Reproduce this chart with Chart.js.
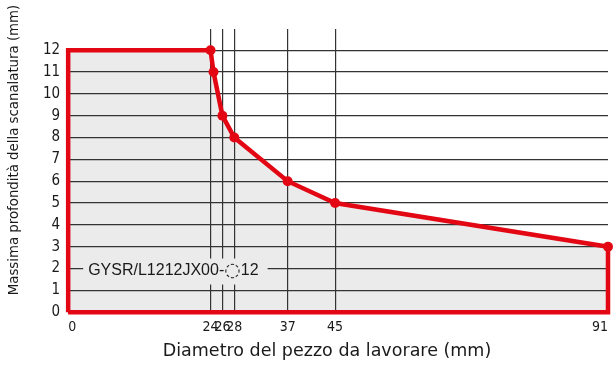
<!DOCTYPE html>
<html>
<head>
<meta charset="utf-8">
<script src="https://cdn.jsdelivr.net/npm/chart.js@4/dist/chart.umd.min.js"></script>
<style>
  html, body { margin: 0; padding: 0; background: #fff; }
  #wrap { width: 614px; height: 365px; }
</style>
</head>
<body>
<div id="wrap"><canvas id="depthChart"></canvas></div>
<script>
// Limit curve: workpiece diameter (mm) vs max groove depth (mm)
const diameters = [24, 24.5, 26, 28, 37, 45, 91];
const depths = [12, 11, 9, 8, 6, 5, 3];
// Ticks shown on the axes
const xTicks = [0, 24, 26, 28, 37, 45, 91];
const yTicks = [0, 1, 2, 3, 4, 5, 6, 7, 8, 9, 10, 11, 12];
const modelParts = ["GYSR/L1212JX00-", "\u25CC", "12"];
const labelDepth = 2;
const xTitle = "Diametro del pezzo da lavorare (mm)";
const yTitle = "Massima profondità della scanalatura (mm)";

const RED = "#e30613";
const INK = "#1a1a1a";
const COND = "'DejaVu Sans Condensed', 'DejaVu Sans', sans-serif";

const curve = diameters.map((d, i) => ({ x: d, y: depths[i] }));
const last = curve[curve.length - 1];
// shaded area: left edge at full depth, then the curve, filled down to zero
const area = [{ x: 0, y: depths[0] }].concat(curve);
// red boundary round the whole allowed region
const outline = [{ x: 0, y: 0 }, { x: 0, y: depths[0] }]
  .concat(curve)
  .concat([{ x: last.x, y: 0 }, { x: 0, y: 0 }]);
const radii = outline.map((p, i) => (i >= 2 && i < 2 + curve.length ? 5 : 0));

// model code on the chart, over a box hiding the grid behind it
const modelTag = {
  id: "modelTag",
  afterDatasetsDraw(chart) {
    const { ctx, scales } = chart;
    const y = scales.y.getPixelForValue(labelDepth) + 2;
    let x = scales.x.left + 20;
    const fonts = [
      "16px 'Liberation Sans', Arial, sans-serif",
      "19px 'DejaVu Sans', sans-serif",
      "16px 'Liberation Sans', Arial, sans-serif",
    ];
    ctx.save();
    let w = 0;
    modelParts.forEach((t, i) => { ctx.font = fonts[i]; w += ctx.measureText(t).width; });
    ctx.fillStyle = "#ebebeb";
    ctx.fillRect(x - 5, y - 12, w + 14, 26);
    ctx.fillStyle = INK;
    ctx.textBaseline = "middle";
    modelParts.forEach((t, i) => {
      ctx.font = fonts[i];
      ctx.fillText(t, x, i === 1 ? y + 1 : y);
      x += ctx.measureText(t).width;
    });
    ctx.restore();
  },
};

// axis titles
const axisTitles = {
  id: "axisTitles",
  afterDraw(chart) {
    const { ctx } = chart;
    ctx.save();
    ctx.fillStyle = INK;
    ctx.textAlign = "center";
    ctx.textBaseline = "middle";
    ctx.font = "17.5px 'DejaVu Sans', sans-serif";
    ctx.fillText(xTitle, 327, 351);
    ctx.translate(14, 150);
    ctx.rotate(-Math.PI / 2);
    ctx.font = "14.8px " + COND;
    ctx.fillText(yTitle, 0, 0);
    ctx.restore();
  },
};

new Chart(document.getElementById("depthChart"), {
  type: "scatter",
  data: {
    datasets: [
      {
        data: area,
        showLine: true,
        borderWidth: 0,
        borderColor: "transparent",
        backgroundColor: "#ebebeb",
        fill: "origin",
        pointRadius: 0,
        tension: 0,
      },
      {
        data: outline,
        showLine: true,
        borderColor: RED,
        borderWidth: 4.5,
        fill: false,
        pointRadius: radii,
        pointHoverRadius: radii,
        pointBackgroundColor: RED,
        pointBorderWidth: 0,
        tension: 0,
        clip: false,
      },
    ],
  },
  options: {
    responsive: true,
    maintainAspectRatio: false,
    animation: false,
    layout: { padding: { left: 35, right: 6, top: 29, bottom: 22 } },
    plugins: {
      legend: { display: false },
      tooltip: { enabled: false },
      filler: { drawTime: "beforeDraw" },
    },
    scales: {
      x: {
        type: "linear",
        min: 0,
        max: 91,
        afterBuildTicks: (axis) => { axis.ticks = xTicks.map((v) => ({ value: v })); },
        afterFit: (axis) => { axis.paddingLeft = 0; axis.paddingRight = 0; },
        border: { display: false },
        grid: {
          drawTicks: false,
          color: (c) => (c.tick && (c.tick.value === 0 || c.tick.value === 91) ? "transparent" : "#333"),
          lineWidth: 1.2,
        },
        ticks: {
          autoSkip: false,
          maxRotation: 0,
          align: "inner",
          padding: 7,
          color: INK,
          font: { family: COND, size: 14 },
        },
      },
      y: {
        type: "linear",
        min: 0,
        max: 12.97,
        afterBuildTicks: (axis) => { axis.ticks = yTicks.map((v) => ({ value: v })); },
        afterFit: (axis) => { axis.paddingTop = 0; axis.paddingBottom = 0; },
        border: { display: false },
        grid: { drawTicks: false, color: "#333", lineWidth: 1.2 },
        ticks: {
          padding: 8,
          color: INK,
          font: { family: COND, size: 15 },
        },
      },
    },
  },
  plugins: [modelTag, axisTitles],
});
</script>
</body>
</html>
